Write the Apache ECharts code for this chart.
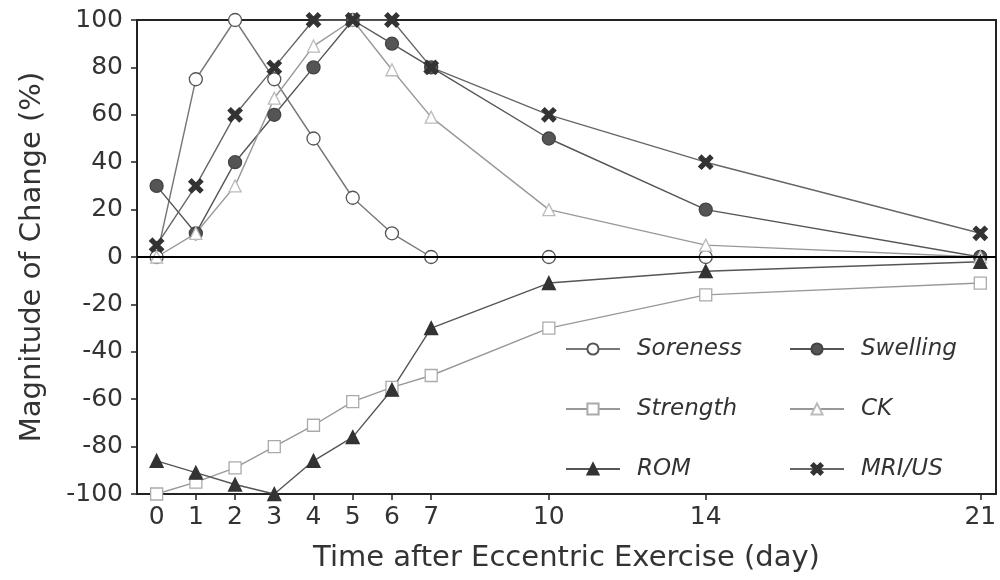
<!DOCTYPE html>
<html>
<head>
<meta charset="utf-8">
<script src="https://cdn.jsdelivr.net/npm/echarts@6/dist/echarts.min.js"></script>
<style>html,body{margin:0;padding:0;background:#fff}#c{width:1000px;height:580px}</style>
</head>
<body>
<div id="c"></div>
<script>
var days = [0, 1, 2, 3, 4, 5, 6, 7, 10, 14, 21];
var soreness = [0, 75, 100, 75, 50, 25, 10, 0, 0, 0, 0];
var swelling = [30, 10, 40, 60, 80, 100, 90, 80, 50, 20, 0];
var strength = [-100, -95, -89, -80, -71, -61, -55, -50, -30, -16, -11];
var ck = [0, 10, 30, 67, 89, 100, 79, 59, 20, 5, 0];
var rom = [-86, -91, -96, -100, -86, -76, -56, -30, -11, -6, -2];
var mri = [5, 30, 60, 80, 100, 100, 100, 80, 60, 40, 10];
var yTicks = [-100, -80, -60, -40, -20, 0, 20, 40, 60, 80, 100];

function pairs(vals) { return days.map(function (d, i) { return [d, vals[i]]; }); }

var FONT = 'DejaVu Sans';
var crossPath = 'path://M0,2 L2,0 L5,3 L8,0 L10,2 L7,5 L10,8 L8,10 L5,7 L2,10 L0,8 L3,5 Z';

function mk(name, vals, symbol, size, fill, stroke, line) {
  return {
    name: name, type: 'line', data: pairs(vals),
    symbol: symbol, symbolSize: size, showSymbol: true,
    lineStyle: { color: line, width: 1.4 },
    itemStyle: { color: fill, borderColor: stroke, borderWidth: 1.3 },
    z: 3
  };
}

var series = [
  mk('Soreness', soreness, 'circle', 13, '#fff', '#555', '#777'),
  mk('Swelling', swelling, 'circle', 13, '#555', '#444', '#555'),
  mk('Strength', strength, 'rect', 12, '#fff', '#aaa', '#999'),
  mk('CK', ck, 'triangle', 12, '#fff', '#bbb', '#999'),
  mk('ROM', rom, 'triangle', 13, '#333', '#333', '#555'),
  mk('MRI/US', mri, crossPath, 14, '#333', '#333', '#666')
];
series[0].markLine = {
  silent: true, symbol: ['none', 'none'], label: { show: false },
  lineStyle: { color: '#000', width: 2, type: 'solid' },
  data: [{ yAxis: 0 }]
};

var legendText = { fontFamily: FONT, fontSize: 23, fontStyle: 'italic', color: '#333', lineHeight: 24, padding: [0, 0, 0, 12] };

var chart = echarts.init(document.getElementById('c'), null, { renderer: 'canvas' });
chart.setOption({
  animation: false,
  backgroundColor: '#fff',
  grid: { left: 137, right: 4, top: 20, bottom: 86, containLabel: false },
  legend: [
    { data: ['Soreness', 'Strength', 'ROM'], orient: 'vertical', left: 565, top: 337, padding: 0,
      itemWidth: 54, itemHeight: 14, itemGap: 36, textStyle: legendText },
    { data: ['Swelling', 'CK', 'MRI/US'], orient: 'vertical', left: 789, top: 337, padding: 0,
      itemWidth: 54, itemHeight: 14, itemGap: 36, textStyle: legendText }
  ],
  xAxis: [{
    type: 'value', min: -0.5, max: 21.4,
    name: 'Time after Eccentric Exercise (day)', nameLocation: 'middle', nameGap: 50,
    nameTextStyle: { fontFamily: FONT, fontSize: 29, color: '#333' },
    axisLine: { show: true, onZero: false, lineStyle: { color: '#222', width: 2 } },
    axisTick: { show: true, length: 6, customValues: days, lineStyle: { color: '#222', width: 1.5 } },
    axisLabel: { customValues: days, fontFamily: FONT, fontSize: 25, color: '#333', margin: 11 },
    splitLine: { show: false }
  }, {
    type: 'value', position: 'top', min: -0.5, max: 21.4,
    axisLine: { show: true, onZero: false, lineStyle: { color: '#222', width: 2 } },
    axisTick: { show: false }, axisLabel: { show: false }, splitLine: { show: false }
  }],
  yAxis: [{
    type: 'value', min: -100, max: 100, interval: 20,
    name: 'Magnitude of Change (%)', nameLocation: 'middle', nameGap: 90,
    nameTextStyle: { fontFamily: FONT, fontSize: 29, color: '#333' },
    axisLine: { show: true, onZero: false, lineStyle: { color: '#222', width: 2 } },
    axisTick: { show: true, length: 6, lineStyle: { color: '#222', width: 1.5 } },
    axisLabel: { fontFamily: FONT, fontSize: 25, color: '#333', margin: 14,
      customValues: yTicks },
    splitLine: { show: false }
  }, {
    type: 'value', position: 'right', min: -100, max: 100,
    axisLine: { show: true, onZero: false, lineStyle: { color: '#222', width: 2 } },
    axisTick: { show: false }, axisLabel: { show: false }, splitLine: { show: false }
  }],
  series: series
});
</script>
</body>
</html>
